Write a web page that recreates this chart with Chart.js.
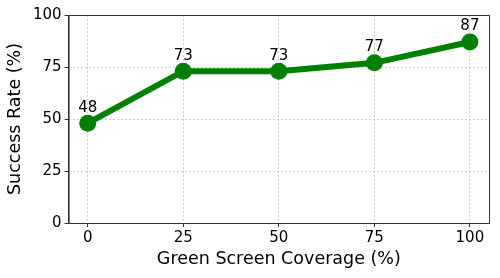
<!DOCTYPE html>
<html>
<head>
<meta charset="utf-8">
<script src="https://cdn.jsdelivr.net/npm/chart.js@4.4.1/dist/chart.umd.min.js"></script>
<style>
  html, body { margin: 0; padding: 0; background: #fff; }
  #wrap { width: 500px; height: 278px; }
</style>
</head>
<body>
<div id="wrap"><canvas id="lineChart"></canvas></div>
<script>
// datos
const coverage = [0, 25, 50, 75, 100];
const successRate = [48, 73, 73, 77, 87];
const xTicks = [0, 25, 50, 75, 100];
const yTicks = [0, 25, 50, 75, 100];

const FONT = "'DejaVu Sans', sans-serif";

// marco completo alrededor del área del gráfico
const framePlugin = {
    id: 'frame',
    afterDraw(chart) {
        const { ctx, chartArea: a } = chart;
        ctx.save();
        ctx.strokeStyle = '#333';
        ctx.lineWidth = 1;
        ctx.strokeRect(a.left + 0.5, a.top + 0.5, a.right - a.left, a.bottom - a.top);
        ctx.restore();
    }
};

// etiquetas de valor encima de cada punto
const valueLabels = {
    id: 'valueLabels',
    afterDatasetsDraw(chart) {
        const { ctx } = chart;
        const meta = chart.getDatasetMeta(0);
        ctx.save();
        ctx.font = '15px ' + FONT;
        ctx.fillStyle = '#000';
        ctx.textAlign = 'center';
        ctx.textBaseline = 'bottom';
        meta.data.forEach((pt, i) => {
            ctx.fillText(String(successRate[i]), pt.x, pt.y - 8);
        });
        ctx.restore();
    }
};

const ctx = document.getElementById('lineChart').getContext('2d');
new Chart(ctx, {
    type: 'line',
    data: {
        datasets: [{
            data: coverage.map((x, i) => ({ x: x, y: successRate[i] })),
            borderColor: '#008000',
            backgroundColor: '#008000',
            borderWidth: 6,
            pointRadius: 8.5,
            pointBackgroundColor: '#008000',
            pointBorderColor: '#008000',
            pointBorderWidth: 0,
            tension: 0,
            fill: false,
        }]
    },
    options: {
        responsive: true,
        maintainAspectRatio: false,
        animation: false,
        layout: { padding: { top: 15, right: 11, bottom: 8, left: 5 } },
        plugins: {
            legend: { display: false },
            tooltip: { enabled: false }
        },
        scales: {
            x: {
                type: 'linear',
                min: -5,
                max: 105,
                afterBuildTicks: (axis) => { axis.ticks = xTicks.map(v => ({ value: v })); },
                grid: {
                    color: '#cccccc',
                    tickColor: '#333',
                    tickLength: 4,
                    tickBorderDash: [],
                },
                border: { display: true, color: '#333', dash: [2, 2] },
                ticks: { color: '#000', font: { family: FONT, size: 15 }, padding: 2 },
                title: {
                    display: true,
                    text: 'Green Screen Coverage (%)',
                    color: '#000',
                    font: { family: FONT, size: 17.5 },
                    padding: { top: 0, bottom: 0 }
                }
            },
            y: {
                min: 0,
                max: 100,
                afterBuildTicks: (axis) => { axis.ticks = yTicks.map(v => ({ value: v })); },
                grid: {
                    color: '#cccccc',
                    tickColor: '#333',
                    tickLength: 4,
                    tickBorderDash: [],
                },
                border: { display: true, color: '#333', dash: [2, 2] },
                ticks: { color: '#000', font: { family: FONT, size: 15 }, padding: 3 },
                title: {
                    display: true,
                    text: 'Success Rate (%)',
                    color: '#000',
                    font: { family: FONT, size: 17.5 },
                    padding: { top: 0, bottom: 4 }
                }
            }
        }
    },
    plugins: [framePlugin, valueLabels]
});
</script>
</body>
</html>
